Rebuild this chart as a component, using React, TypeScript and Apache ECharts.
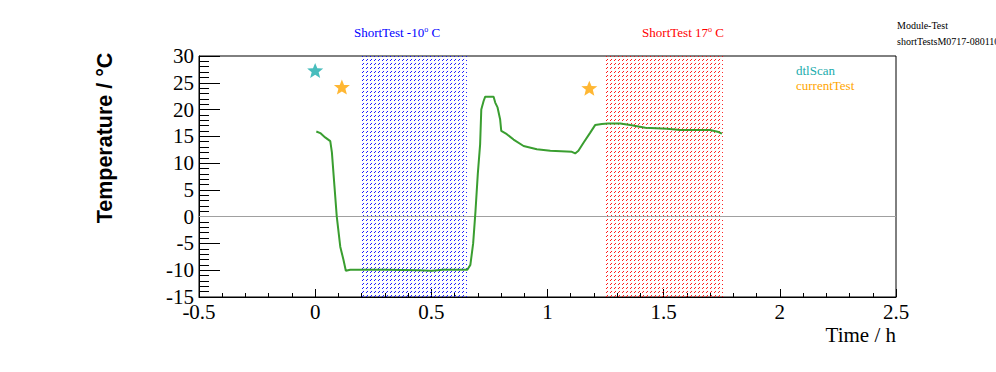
import React, { useEffect, useRef } from "react";
import * as echarts from "echarts";

const timeH = [0.005, 0.022, 0.043, 0.065, 0.072, 0.083, 0.093, 0.108, 0.122, 0.132, 0.151, 0.3, 0.45, 0.5, 0.55, 0.655, 0.668, 0.68, 0.69, 0.7, 0.71, 0.715, 0.725, 0.732, 0.768, 0.775, 0.785, 0.796, 0.801, 0.825, 0.854, 0.897, 0.954, 1.012, 1.105, 1.119, 1.133, 1.155, 1.184, 1.205, 1.234, 1.26, 1.313, 1.356, 1.421, 1.514, 1.571, 1.7, 1.736, 1.751];
const tempC = [15.9, 15.6, 14.8, 14.1, 12, 5.7, 0, -5.6, -8.1, -10.1, -9.9, -9.9, -10, -10.1, -9.9, -9.9, -9, -5, 1, 8, 13.5, 20, 21.6, 22.4, 22.4, 21.3, 20.4, 18.2, 16, 15.4, 14.4, 13.2, 12.6, 12.3, 12.1, 11.8, 12.3, 13.8, 15.7, 17.1, 17.3, 17.4, 17.4, 17.1, 16.6, 16.4, 16.2, 16.2, 15.8, 15.5];

const dtlScanX = [0];
const dtlScanY = [27.3];
const currentTestX = [0.115, 1.18];
const currentTestY = [24.2, 24.0];

const bandStart = [0.2, 1.25];
const bandEnd = [0.65, 1.75];
const bandColors = ["#0000ff", "#ff0000"];

const xTicks = { min: -0.5, max: 2.5, step: 0.5 };
const yTicks = { min: -15, max: 30, step: 5 };

const STAR = "path://M50,0 L63,32 L98,33 L71,55 L80,90 L50,71 L20,90 L29,55 L2,33 L37,32 Z";

export default function App() {
  const ref = useRef<HTMLDivElement>(null);
  useEffect(() => {
    if (!ref.current) return;
    const chart = echarts.init(ref.current, undefined, { renderer: "svg" });
    const serif = "Liberation Serif";
    const lineData = timeH.map((t, i) => [t, tempC[i]]);
    const rich = (color: string) => ({
      a: { fontFamily: serif, fontSize: 13, fontWeight: "normal", color },
      s: { fontFamily: serif, fontSize: 8, fontWeight: "normal", color, verticalAlign: "top", padding: [0, 0, 6, 0] },
    });
    const renderBand = (params: any, api: any) => {
      const p0 = api.coord([api.value(0), yTicks.max]);
      const p1 = api.coord([api.value(1), yTicks.min]);
      const x0 = Math.round(p0[0]), y0 = Math.round(p0[1]);
      const x1 = Math.round(p1[0]) + 1, y1 = Math.round(p1[1]);
      const color = bandColors[params.dataIndex];
      const children: any[] = [];
      const step = 4;
      for (let c = x0 + y0 + 1; c < x1 + y1; c += step) {
        const yA = Math.min(y1, c - x0);
        const yB = Math.max(y0, c - x1);
        if (yA <= yB) continue;
        children.push({
          type: "line",
          shape: { x1: c - yA, y1: yA, x2: c - yB, y2: yB },
          style: { stroke: color, lineWidth: 0.9, lineDash: [2.83, 2.83], lineDashOffset: ((yA - y1) % 4) * 1.414 },
          silent: true,
        });
      }
      return { type: "group", children };
    };
    const option: any = {
      animation: false,
      backgroundColor: "#fff",
      grid: { left: 199, right: 100, top: 56, bottom: 75, show: true, borderColor: "#000", borderWidth: 1, backgroundColor: "transparent" },
      title: [
        { text: "{a|ShortTest -10}{s|o}{a| C}", left: 392, top: 20, textAlign: "center", textStyle: { fontWeight: "normal", rich: rich("#0000ff") } },
        { text: "{a|ShortTest 17}{s|o}{a| C}", left: 678, top: 20, textAlign: "center", textStyle: { fontWeight: "normal", rich: rich("#ff0000") } },
      ],
      legend: {
        orient: "vertical", left: 786, top: 59, icon: "none", itemWidth: 0, itemHeight: 10, itemGap: 2,
        selectedMode: false,
        data: [
          { name: "dtlScan", textStyle: { color: "#1aacac", fontFamily: serif, fontSize: 13 } },
          { name: "currentTest", textStyle: { color: "#ffa500", fontFamily: serif, fontSize: 13 } },
        ],
      },
      graphic: [
        { type: "text", left: 897, top: 20, style: { text: "Module-Test", font: "10px 'Liberation Serif'", fill: "#000" } },
        { type: "text", left: 897, top: 36, style: { text: "shortTestsM0717-080110", font: "10px 'Liberation Serif'", fill: "#000" } },
        { type: "text", x: 105, y: 138, rotation: Math.PI / 2, style: { text: "Temperature / °C", font: "bold 21.5px 'Liberation Sans'", fill: "#000", align: "center", verticalAlign: "middle" } },
        { type: "text", x: 896, y: 335, style: { text: "Time / h", font: "21px 'Liberation Serif'", fill: "#000", align: "right", verticalAlign: "middle" } },
      ],
      xAxis: {
        type: "value", min: xTicks.min, max: xTicks.max, interval: xTicks.step,
        axisLine: { show: true, onZero: false, lineStyle: { color: "#000", width: 1 } },
        axisTick: { show: true, inside: true, length: 8, lineStyle: { color: "#000" } },
        minorTick: { show: true, splitNumber: 5, length: 4, lineStyle: { color: "#000" } },
        splitLine: { show: false },
        axisLabel: { fontFamily: serif, fontSize: 21, color: "#000", margin: 4 },
      },
      yAxis: {
        type: "value", min: yTicks.min, max: yTicks.max, interval: yTicks.step,
        axisLine: { show: true, onZero: false, lineStyle: { color: "#000", width: 1 } },
        axisTick: { show: true, inside: true, length: 21, lineStyle: { color: "#000" } },
        minorTick: { show: true, splitNumber: 5, length: 10, lineStyle: { color: "#000" } },
        splitLine: { show: false },
        axisLabel: { fontFamily: serif, fontSize: 21, color: "#000", margin: 5 },
      },
      series: [
        {
          name: "bands", type: "custom", renderItem: renderBand, silent: true, z: 1,
          encode: { x: [0, 1] },
          data: bandStart.map((s, i) => [s, bandEnd[i]]),
        },
        {
          name: "zero", type: "line", data: [], silent: true,
          markLine: {
            silent: true, symbol: "none", label: { show: false },
            lineStyle: { color: "#a0a0a0", type: "solid", width: 1 },
            data: [{ yAxis: 0 }],
          },
        },
        {
          name: "temperature", type: "line", data: lineData, showSymbol: false, symbol: "none",
          lineStyle: { color: "#3a9e30", width: 2 }, z: 5,
        },
        {
          name: "dtlScan", type: "scatter", data: dtlScanX.map((x, i) => [x, dtlScanY[i]]),
          symbol: STAR, symbolSize: [16, 15], itemStyle: { color: "#1aacac" }, z: 6,
        },
        {
          name: "currentTest", type: "scatter", data: currentTestX.map((x, i) => [x, currentTestY[i]]),
          symbol: STAR, symbolSize: [16, 15], itemStyle: { color: "#ffa500" }, z: 6,
        },
      ],
    };
    chart.setOption(option);
    return () => chart.dispose();
  }, []);
  return <div ref={ref} style={{ position: "fixed", left: 0, top: 0, width: 996, height: 372 }} />;
}
